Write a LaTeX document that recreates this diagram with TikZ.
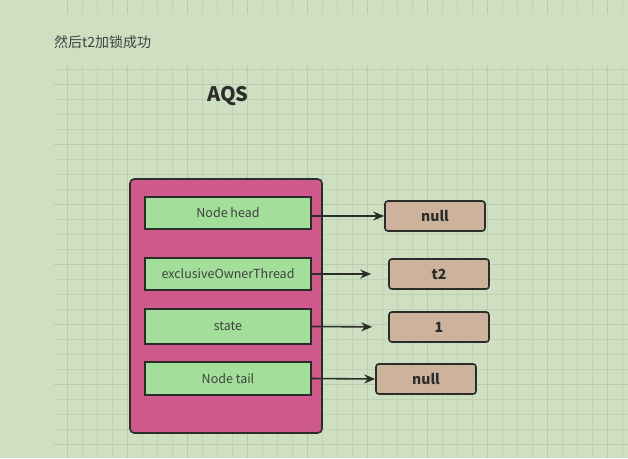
\documentclass[tikz,border=0pt]{standalone}
\usepackage{fontspec}
\setmainfont{Noto Sans CJK SC}
\setsansfont{Noto Sans CJK SC}
\usepackage{tikz}
\usetikzlibrary{
  arrows.meta,
  positioning
}
\definecolor{paper}{RGB}{207,223,194}
\definecolor{gridthin}{RGB}{192,210,180}
\definecolor{gridthick}{RGB}{184,203,172}
\definecolor{aqspink}{RGB}{205,90,138}
\definecolor{fieldgreen}{RGB}{163,222,155}
\definecolor{valuetan}{RGB}{206,179,156}
\definecolor{ink}{RGB}{43,45,43}
\tikzset{
  container node/.style={
    rectangle,
    rounded corners=1.5mm,
    draw=ink,
    fill=aqspink,
    line width=1.6pt,
    minimum width=192pt,
    minimum height=254pt
  }
}
\tikzset{
  field node/.style={
    rectangle,
    draw=ink,
    fill=fieldgreen,
    line width=1.6pt,
    minimum width=166pt,
    minimum height=32pt,
    inner sep=0pt,
    text=ink!90,
    font=\fontsize{12.5}{14}\selectfont
  }
}
\tikzset{
  value node/.style={
    rectangle,
    rounded corners=1mm,
    draw=ink,
    fill=valuetan,
    line width=1.6pt,
    minimum width=100pt,
    minimum height=30pt,
    inner sep=0pt,
    text=ink,
    font=\fontsize{14}{16}\selectfont\bfseries
  }
}
\tikzset{
  pointer/.style={
    -{Stealth[length=11pt,width=9pt]},
    draw=ink,
    fill=ink,
    line width=1.6pt
  }
}
\tikzset{
  grid thin/.style={draw=gridthin, line width=0.6pt},
  grid thick/.style={draw=gridthick, line width=1pt}
}

\begin{document}
\begin{tikzpicture}[x=1pt,y=-1pt]

    \useasboundingbox (0,0) rectangle (628,458);
    \fill[paper] (0,0) rectangle (628,458);

    % ------------------------------------------------------------
    % Background grid
    % ------------------------------------------------------------

    \foreach \gx in {0,...,37}
    {
      \pgfmathsetmacro{\xx}{67+15*\gx}
      \draw[grid thin] (\xx,0) -- (\xx,14);
      \draw[grid thin] (\xx,66) -- (\xx,458);
    }
    \foreach \gy in {0,...,25}
    {
      \pgfmathsetmacro{\yy}{69+15*\gy}
      \draw[grid thin] (54,\yy) -- (628,\yy);
    }
    \foreach \gx in {0,...,9}
    {
      \pgfmathsetmacro{\xx}{67+60*\gx}
      \draw[grid thick] (\xx,0) -- (\xx,14);
      \draw[grid thick] (\xx,66) -- (\xx,458);
    }
    \foreach \gy in {0,...,6}
    {
      \pgfmathsetmacro{\yy}{84+60*\gy}
      \draw[grid thick] (54,\yy) -- (628,\yy);
    }

    % ------------------------------------------------------------
    % Titles
    % ------------------------------------------------------------

    \node[anchor=west, text=ink!90, font=\fontsize{14}{16}\selectfont, inner sep=0pt]
      (caption) at (54,42) {然后t2加锁成功};

    \node[text=ink, font=\fontsize{20}{22}\selectfont\bfseries, inner sep=0pt]
      (aqs) at (228,96) {AQS};

    % ------------------------------------------------------------
    % AQS fields
    % ------------------------------------------------------------

    \node[container node] (box) at (226,306) {};

    \node[field node] (head) at (228,213) {Node head};
    \node[field node] (owner) at (228,274) {exclusiveOwnerThread};
    \node[field node, minimum height=35pt] (state) at (228,326.5) {state};
    \node[field node, minimum height=33pt] (tail) at (228,378.5) {Node tail};

    % ------------------------------------------------------------
    % Values
    % ------------------------------------------------------------

    \node[value node] (headval) at (435,216) {null};
    \node[value node] (ownerval) at (439,274) {t2};
    \node[value node] (stateval) at (439,327) {1};
    \node[value node] (tailval) at (426,379) {null};

    % ------------------------------------------------------------
    % Pointers
    % ------------------------------------------------------------

    \draw[pointer] (head.east |- headval.west) -- (headval.west);
    \draw[pointer, shorten >=17pt] (owner.east) -- (ownerval.west);
    \draw[pointer, shorten >=16pt] (state.east) -- (stateval.west);
    \draw[pointer] (tail.east) -- (tailval.west);

\end{tikzpicture}
\end{document}
